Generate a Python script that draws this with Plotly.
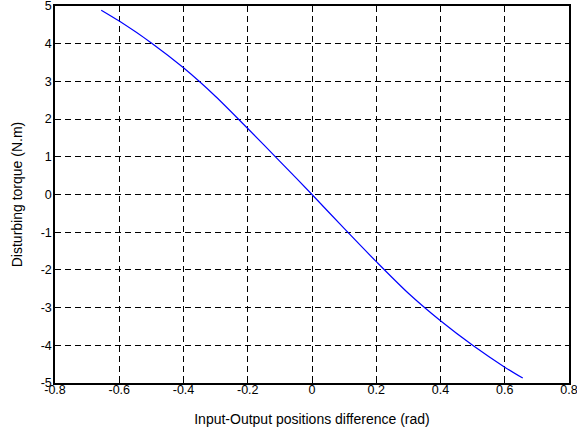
import plotly.graph_objects as go

x_vals = [-0.656, -0.6, -0.5, -0.4, -0.3, -0.2, -0.1, 0.0, 0.1, 0.2, 0.3, 0.4, 0.5, 0.6, 0.656]
y_vals = [4.89, 4.60, 4.02, 3.36, 2.60, 1.75, 0.88, 0.0, -0.90, -1.78, -2.62, -3.35, -4.0, -4.58, -4.87]

x_ticks = [-0.8, -0.6, -0.4, -0.2, 0, 0.2, 0.4, 0.6, 0.8]
x_ticklabels = ["-0.8", "-0.6", "-0.4", "-0.2", "0", "0.2", "0.4", "0.6", "0.8"]
y_ticks = [-5, -4, -3, -2, -1, 0, 1, 2, 3, 4, 5]
y_ticklabels = ["-5", "-4", "-3", "-2", "-1", "0", "1", "2", "3", "4", "5"]

FONT = "Liberation Sans, Arial"

fig = go.Figure()
fig.add_trace(go.Scatter(x=x_vals, y=y_vals, mode="lines",
                         line=dict(color="#0000ff", width=1.2, shape="spline", smoothing=0.8),
                         showlegend=False))

axis_common = dict(
    showline=True, linecolor="black", linewidth=1.5, mirror="ticks",
    ticks="inside", ticklen=4, tickcolor="black",
    showgrid=True, gridcolor="black", gridwidth=0.8, griddash="6px,4px",
    zeroline=False, automargin=False, ticklabeloverflow="allow",
    tickfont=dict(family=FONT, size=12.5, color="black"),
)

fig.update_xaxes(range=[-0.8, 0.8], tickvals=x_ticks, ticktext=x_ticklabels,
                 ticklabelstandoff=-6,
                 title=dict(text="Input-Output positions difference (rad)",
                            font=dict(family=FONT, size=14, color="black"),
                            standoff=18),
                 **axis_common)
fig.update_yaxes(range=[-5, 5], tickvals=y_ticks, ticktext=y_ticklabels,
                 ticklabelstandoff=-1,
                 title=dict(text="Disturbing torque (N.m)",
                            font=dict(family=FONT, size=14, color="black"),
                            standoff=15),
                 **axis_common)

fig.update_layout(
    width=577, height=432,
    margin=dict(l=55, r=8, t=6, b=49),
    paper_bgcolor="white", plot_bgcolor="white",
)

fig.write_html("out.html", config={"displayModeBar": False},
               post_script="document.body.style.margin='0px';")
